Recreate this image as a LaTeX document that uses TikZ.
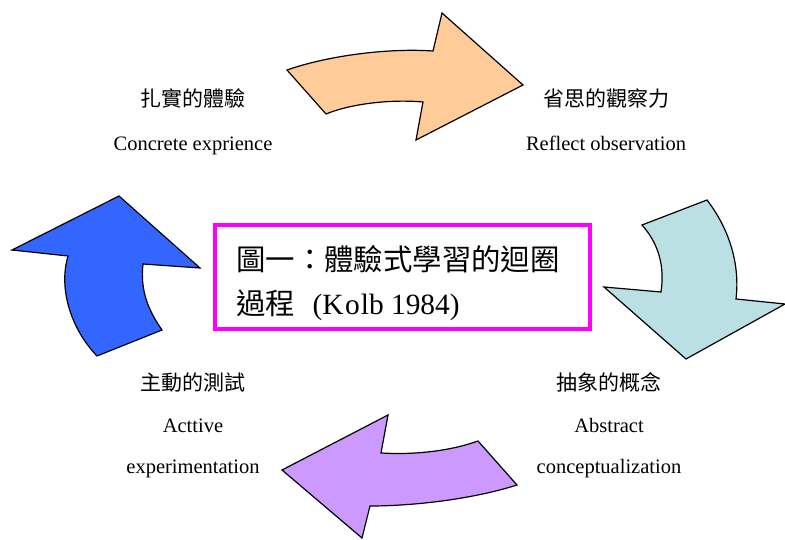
\documentclass[tikz,border=0pt]{standalone}
\usepackage{fontspec}
\setmainfont{Liberation Serif}
\newfontfamily\cjk{Noto Sans CJK TC}
\definecolor{orangefill}{RGB}{255,204,153}
\definecolor{cyanfill}{RGB}{187,224,227}
\definecolor{purplefill}{RGB}{204,153,255}
\definecolor{bluefill}{RGB}{51,102,255}
\definecolor{boxmagenta}{RGB}{255,0,255}
\begin{document}
\begin{tikzpicture}[x=1pt,y=-1pt,
  bentarrow/.style={draw=black,line width=1.2pt,line join=miter},
  lbl/.style={anchor=base,inner sep=0pt,font=\fontsize{20.5}{24}\selectfont},
  cjklbl/.style={anchor=base,inner sep=0pt,font=\cjk\fontsize{21}{24}\selectfont},
  titleline/.style={anchor=base west,inner sep=0pt,font=\fontsize{29.4}{34}\selectfont}]
\useasboundingbox (0,0) rectangle (785,540);
% orange arrow (top)
\path[bentarrow,fill=orangefill] (287,70) .. controls (330,55) and (390,48) .. (433,51)
  -- (442,13) -- (523,85) -- (416,140) -- (423,102)
  .. controls (390,99) and (350,104) .. (326,114) -- cycle;
% light cyan arrow (right)
\path[bentarrow,fill=cyanfill] (707,200) .. controls (730,230) and (740,265) .. (736,299)
  -- (785,304) -- (686,359) -- (604,287) -- (661,292)
  .. controls (665,265) and (658,243) .. (642,225) -- cycle;
% purple arrow (bottom)
\path[bentarrow,fill=purplefill] (478,441) -- (517,485)
  .. controls (470,500) and (410,506) .. (370,506)
  -- (362,538) -- (282,470) -- (388,415) -- (381,453)
  .. controls (415,455) and (450,451) .. (478,441) -- cycle;
% blue arrow (left)
\path[bentarrow,fill=bluefill] (119,196) -- (200,268) -- (143,264)
  .. controls (140,290) and (148,310) .. (162,330) -- (97,356)
  .. controls (72,330) and (58,290) .. (68,256) -- (12,250) -- cycle;
% central box
\node[draw=boxmagenta,line width=4pt,minimum width=375pt,minimum height=104pt,inner sep=0pt] (box) at (402.5,277) {};
\node[titleline] (t1) at (236,271) {\cjk 圖一：體驗式學習的迴圈};
\node[titleline] (t2) at (236,315) {{\cjk 過程}\hspace{0.6em}(K\kern1.5pt o\kern1pt lb 1984)};
% labels
\node[cjklbl] (ce1) at (193,107) {\cjk 扎實的體驗};
\node[lbl] (ce2) at (193,151) {Concrete exprience};
\node[cjklbl] (ro1) at (606,107) {\cjk 省思的觀察力};
\node[lbl] (ro2) at (606,151) {Reflect observation};
\node[cjklbl] (ae1) at (193,390) {\cjk 主動的測試};
\node[lbl] (ae2) at (193,432) {Acttive};
\node[lbl] (ae3) at (193,473) {experimentation};
\node[cjklbl] (ac1) at (609,390) {\cjk 抽象的概念};
\node[lbl] (ac2) at (609,432) {Abstract};
\node[lbl] (ac3) at (609,473) {conceptualization};
\end{tikzpicture}
\end{document}
